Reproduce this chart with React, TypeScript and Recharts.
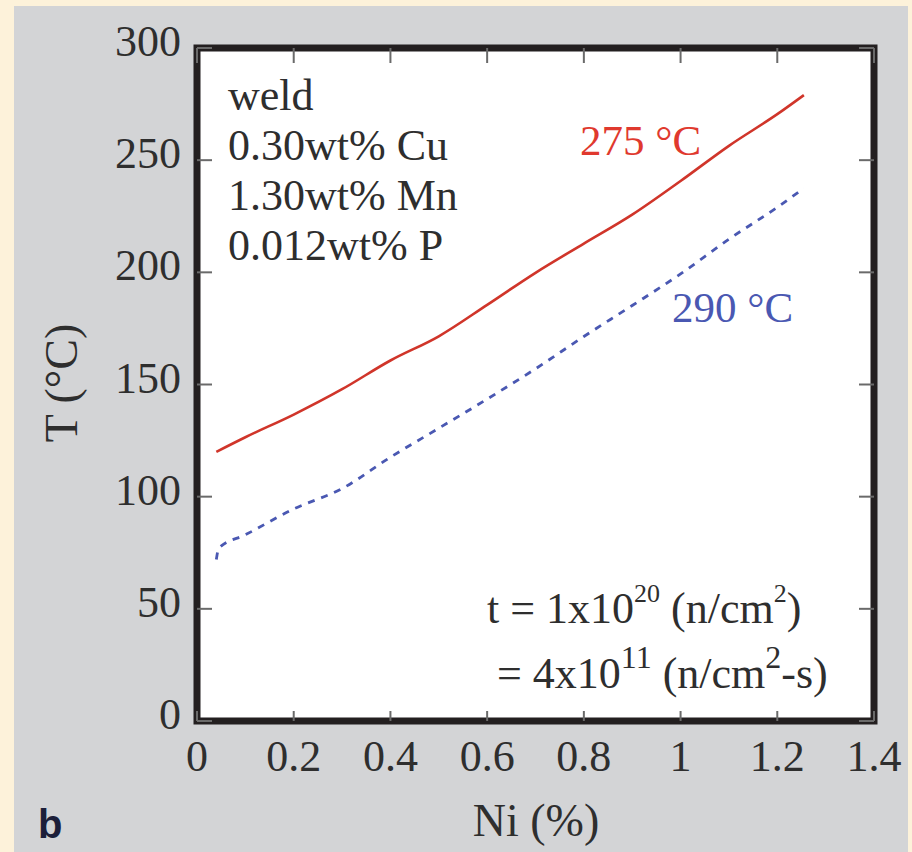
import React from 'react';
import { LineChart, Line, XAxis, YAxis, ReferenceArea, CartesianGrid } from 'recharts';

// ---- data ----
const xTicks = [0, 0.2, 0.4, 0.6, 0.8, 1, 1.2, 1.4];
const yTicks = [0, 50, 100, 150, 200, 250, 300];

const niRed = [0.04, 0.1, 0.2, 0.3, 0.4, 0.5, 0.6, 0.7, 0.8, 0.9, 1.0, 1.1, 1.2, 1.255];
const t275 = [120, 126.5, 136.6, 147.9, 160.7, 171.5, 185.5, 199.8, 212.8, 225.7, 240.7, 256.4, 270.5, 279];

const niBlue = [0.04, 0.045, 0.1, 0.2, 0.3, 0.4, 0.5, 0.6, 0.7, 0.8, 0.9, 1.0, 1.1, 1.2, 1.255];
const t290 = [72, 77, 83, 94.5, 103.6, 117.6, 130.5, 143.5, 157, 171.4, 185.2, 199.3, 214.8, 229, 237.5];

const compositionLines = ['weld', '0.30wt% Cu', '1.30wt% Mn', '0.012wt% P'];

const redData = niRed.map((x, i) => ({ x, T: t275[i] }));
const blueData = niBlue.map((x, i) => ({ x, T: t290[i] }));

const SERIF = '"Liberation Serif", "Times New Roman", serif';
const TEXT = '#2e2e2e';
const TICK = '#6a6a6a';

const LeftTick = (props: any) => {
  const { x, y, payload } = props;
  const ax = x + 16;
  return (
    <g>
      <line x1={ax} y1={y} x2={ax + 15} y2={y} stroke={TICK} strokeWidth={2} />
      <text x={x} y={y} dy={8} textAnchor="end" fontFamily={SERIF} fontSize={44} fill={TEXT}>
        {payload.value}
      </text>
    </g>
  );
};

const RightTick = (props: any) => {
  const { x, y } = props;
  return <line x1={x} y1={y} x2={x - 15} y2={y} stroke={TICK} strokeWidth={2} />;
};

const BottomTick = (props: any) => {
  const { x, y, payload } = props;
  return (
    <g>
      <line x1={x} y1={y} x2={x} y2={y - 10} stroke={TICK} strokeWidth={2} />
      <text x={x} y={y} dy={50} textAnchor="middle" fontFamily={SERIF} fontSize={44} fill={TEXT}>
        {payload.value}
      </text>
    </g>
  );
};

const TopTick = (props: any) => {
  const { x, y } = props;
  return <line x1={x} y1={y} x2={x} y2={y + 15} stroke={TICK} strokeWidth={2} />;
};

export default function App() {
  return (
    <div
      style={{
        position: 'absolute',
        left: 0,
        top: 0,
        width: 912,
        height: 852,
        background: '#FDF2DA',
        overflow: 'hidden',
      }}
    >
      <div
        style={{
          position: 'absolute',
          left: 14,
          top: 6,
          width: 894,
          height: 846,
          background: '#D3D4D6',
        }}
      />
      <div style={{ position: 'absolute', left: 0, top: 0 }}>
        <LineChart width={912} height={852} margin={{ top: 0, right: 0, bottom: 0, left: 0 }}>
          <CartesianGrid
            xAxisId="b"
            yAxisId="l"
            horizontal={false}
            vertical={false}
            fill="#FFFFFF"
            fillOpacity={1}
            stroke="none"
          />
          <XAxis
            xAxisId="b"
            type="number"
            dataKey="x"
            domain={[0, 1.4]}
            ticks={xTicks}
            orientation="bottom"
            height={131}
            axisLine={false}
            tickLine={false}
            tickSize={0}
            tickMargin={0}
            tick={<BottomTick />}
            interval={0}
            allowDataOverflow
          />
          <XAxis
            xAxisId="t"
            type="number"
            dataKey="x"
            domain={[0, 1.4]}
            ticks={xTicks}
            orientation="top"
            height={48}
            axisLine={false}
            tickLine={false}
            tickSize={0}
            tickMargin={0}
            tick={<TopTick />}
            interval={0}
            allowDataOverflow
          />
          <YAxis
            yAxisId="l"
            type="number"
            domain={[0, 300]}
            ticks={yTicks}
            orientation="left"
            width={197}
            axisLine={false}
            tickLine={false}
            tickSize={0}
            tickMargin={16}
            tick={<LeftTick />}
            interval={0}
            allowDataOverflow
          />
          <YAxis
            yAxisId="r"
            type="number"
            domain={[0, 300]}
            ticks={yTicks}
            orientation="right"
            width={38}
            axisLine={false}
            tickLine={false}
            tickSize={0}
            tickMargin={0}
            tick={<RightTick />}
            interval={0}
            allowDataOverflow
          />
          <ReferenceArea
            xAxisId="b"
            yAxisId="l"
            x1={0}
            x2={1.4}
            y1={0}
            y2={300}
            fill="none"
            fillOpacity={0}
            stroke="#231F20"
            strokeWidth={7}
          />
          <Line
            xAxisId="b"
            yAxisId="l"
            data={redData}
            dataKey="T"
            type="monotone"
            stroke="#D0352A"
            strokeWidth={2.6}
            dot={false}
            isAnimationActive={false}
          />
          <Line
            xAxisId="b"
            yAxisId="l"
            data={blueData}
            dataKey="T"
            type="monotone"
            stroke="#4A58B2"
            strokeWidth={2.8}
            strokeDasharray="7 7"
            dot={false}
            isAnimationActive={false}
          />
        </LineChart>
      </div>
      <svg
        width={912}
        height={852}
        style={{ position: 'absolute', left: 0, top: 0, pointerEvents: 'none' }}
      >
        {compositionLines.map((s, i) => (
          <text key={s} x={228} y={110 + i * 50} fontFamily={SERIF} fontSize={44} fill={TEXT}>
            {s}
          </text>
        ))}
        <text x={580} y={155} fontFamily={SERIF} fontSize={43} fill="#E0392E">
          275 °C
        </text>
        <text x={672} y={322} fontFamily={SERIF} fontSize={43} fill="#4A58B2">
          290 °C
        </text>
        <text x={487} y={623} fontFamily={SERIF} fontSize={44} fill={TEXT}>
          t = 1x10
          <tspan dy={-21} fontSize={26}>20</tspan>
          <tspan dy={21}> (n/cm</tspan>
          <tspan dy={-21} fontSize={26}>2</tspan>
          <tspan dy={21}>)</tspan>
        </text>
        <text x={497} y={688} fontFamily={SERIF} fontSize={44} fill={TEXT}>
          = 4x10
          <tspan dy={-20} fontSize={32}>11</tspan>
          <tspan dy={20}> (n/cm</tspan>
          <tspan dy={-20} fontSize={32}>2</tspan>
          <tspan dy={20}>-s)</tspan>
        </text>
        <text
          x={77}
          y={383}
          transform="rotate(-90 77 383)"
          textAnchor="middle"
          fontFamily={SERIF}
          fontSize={46}
          fill={TEXT}
        >
          T (°C)
        </text>
        <text x={536} y={836} textAnchor="middle" fontFamily={SERIF} fontSize={46} fill={TEXT}>
          Ni (%)
        </text>
        <text
          x={38}
          y={838}
          fontFamily='"Liberation Sans", Arial, sans-serif'
          fontWeight="bold"
          fontSize={40}
          fill="#1c1f3a"
        >
          b
        </text>
      </svg>
    </div>
  );
}
